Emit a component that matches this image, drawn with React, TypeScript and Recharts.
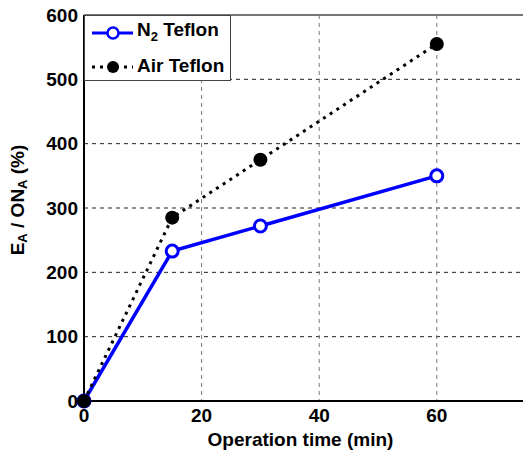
import { LineChart, Line, XAxis, YAxis, CartesianGrid, ReferenceLine } from 'recharts'

const times = [0, 15, 30, 60]
const n2Teflon = [0, 233, 272, 350]
const airTeflon = [0, 285, 375, 555]
const xTicks = [0, 20, 40, 60]
const yTicks = [0, 100, 200, 300, 400, 500, 600]

const data = times.map((t, i) => ({ t, n2: n2Teflon[i], air: airTeflon[i] }))

const FONT = '"Liberation Sans", Arial, sans-serif'

// y label with subscripts: E_A / ON_A (%)
const YLabel = ({ viewBox }: any) => {
  const cy = viewBox.y + viewBox.height / 2 - 8
  const cx = 19
  return (
    <text
      x={cx}
      y={cy}
      transform={`rotate(-90, ${cx}, ${cy})`}
      textAnchor="middle"
      dominantBaseline="middle"
      fontFamily={FONT}
      fontWeight="bold"
      fontSize={19}
      fill="#000"
    >
      <tspan>E</tspan>
      <tspan fontSize={13} dy={5}>A</tspan>
      <tspan dy={-5}> / ON</tspan>
      <tspan fontSize={13} dy={5}>A</tspan>
      <tspan dy={-5}> (%)</tspan>
    </text>
  )
}

const XLabel = ({ viewBox }: any) => (
  <text
    x={viewBox.x + viewBox.width / 2 - 4}
    y={446}
    textAnchor="middle"
    fontFamily={FONT}
    fontWeight="bold"
    fontSize={19}
    fill="#000"
  >
    Operation time (min)
  </text>
)

const LegendBox = () => (
  <div
    style={{
      position: 'absolute',
      left: 84,
      top: 15,
      width: 147,
      height: 66,
      border: '1px solid #444',
      background: '#fff',
      fontFamily: FONT,
      fontWeight: 'bold',
      fontSize: 19,
      boxSizing: 'border-box',
    }}
  >
    <svg width={50} height={66} style={{ position: 'absolute', left: 0, top: 0 }}>
      <line x1={7} y1={17} x2={48} y2={17} stroke="#0000ff" strokeWidth={3} />
      <circle cx={28} cy={17} r={5.5} fill="#fff" stroke="#0000ff" strokeWidth={2.5} />
      <line x1={7} y1={51} x2={48} y2={51} stroke="#000" strokeWidth={3} strokeDasharray="3 5" />
      <circle cx={28} cy={51} r={6} fill="#000" />
    </svg>
    <div style={{ position: 'absolute', left: 52, top: 4, lineHeight: '20px' }}>
      N<sub style={{ fontSize: 13, verticalAlign: -5 }}>2</sub> Teflon
    </div>
    <div style={{ position: 'absolute', left: 52, top: 40, lineHeight: '20px' }}>Air Teflon</div>
  </div>
)

const openDot = (props: any) => (
  <circle key={props.index} cx={props.cx} cy={props.cy} r={6} fill="#fff" stroke="#0000ff" strokeWidth={3} />
)
const fullDot = (props: any) => (
  <circle key={props.index} cx={props.cx} cy={props.cy} r={7} fill="#000" />
)

export default function App() {
  return (
    <div style={{ position: 'absolute', left: 0, top: 0, width: 523, height: 456, overflow: 'hidden', background: '#fff' }}>
      <LineChart width={530} height={456} data={data} margin={{ top: 15, right: 5, left: 0, bottom: 0 }}>
        <CartesianGrid horizontal={true} vertical={false} stroke="#222" strokeDasharray="4 4" />
        <CartesianGrid horizontal={false} vertical={true} stroke="#777" strokeDasharray="4 4" />
        <ReferenceLine y={600} stroke="#777" strokeWidth={2} />
        <XAxis
          dataKey="t"
          type="number"
          domain={[0, 75]}
          ticks={xTicks}
          height={55}
          axisLine={{ stroke: '#000', strokeWidth: 2 }}
          tickLine={false}
          tickSize={0}
          tickMargin={8}
          tick={{ fill: '#000', fontSize: 19, fontWeight: 'bold', fontFamily: FONT }}
          label={<XLabel />}
        />
        <YAxis
          type="number"
          domain={[0, 600]}
          ticks={yTicks}
          width={84}
          axisLine={{ stroke: '#000', strokeWidth: 2 }}
          tickLine={false}
          tickSize={0}
          tickMargin={6}
          tick={{ fill: '#000', fontSize: 19, fontWeight: 'bold', fontFamily: FONT }}
          label={<YLabel />}
        />
        <Line
          dataKey="n2"
          stroke="#0000ff"
          strokeWidth={3.5}
          dot={openDot}
          activeDot={false}
          isAnimationActive={false}
        />
        <Line
          dataKey="air"
          stroke="#000"
          strokeWidth={3}
          strokeDasharray="3 5"
          dot={fullDot}
          activeDot={false}
          isAnimationActive={false}
        />
      </LineChart>
      <LegendBox />
    </div>
  )
}
